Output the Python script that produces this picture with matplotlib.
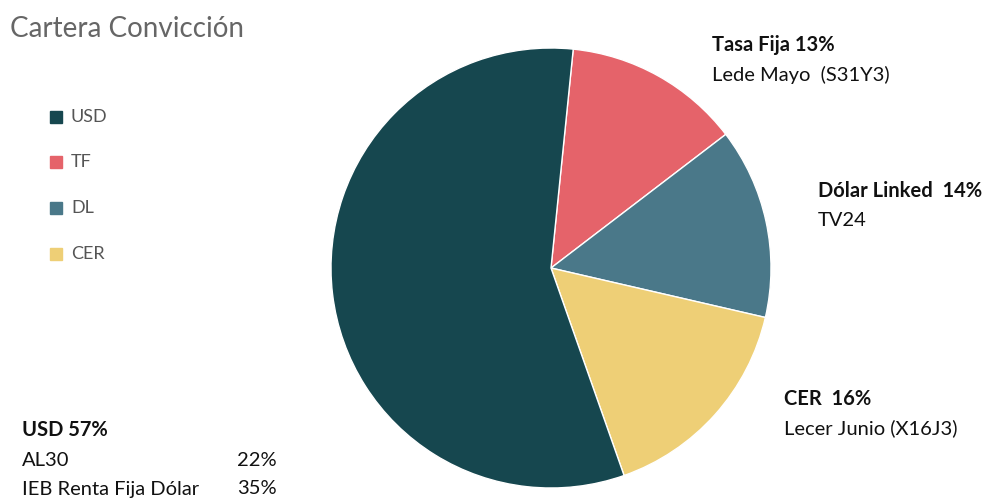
import matplotlib
matplotlib.use("Agg")
import matplotlib.pyplot as plt
from matplotlib.patches import Rectangle

# Data
slice_labels = ["TF", "DL", "CER", "USD"]
slice_values = [13, 14, 16, 57]
slice_colors = ["#e5636a", "#4a7889", "#eecf76", "#16474f"]

legend_labels = ["USD", "TF", "DL", "CER"]
legend_colors = ["#16474f", "#e5636a", "#4a7889", "#eecf76"]

annot_titles = ["Tasa Fija 13%", "Dólar Linked  14%", "CER  16%"]
annot_subs = ["Lede Mayo  (S31Y3)", "TV24", "Lecer Junio (X16J3)"]

usd_title = "USD 57%"
usd_items = ["AL30", "IEB Renta Fija Dólar"]
usd_values = ["22%", "35%"]

W, H = 1000, 499
fig = plt.figure(figsize=(W / 100, H / 100), dpi=100)
fig.patch.set_facecolor("white")

def fx(px):
    return px / W

def fy(py):
    return 1 - py / H

FONT = ["Lato", "DejaVu Sans"]
FS = 14.5

# Pie
ax = fig.add_axes([fx(331), fy(488), 440 / W, 440 / H])
ax.pie(slice_values, colors=slice_colors, startangle=84.2, counterclock=False,
       wedgeprops=dict(linewidth=1.0, edgecolor="white"), radius=1.0)
ax.set_xlim(-1.0, 1.0)
ax.set_ylim(-1.0, 1.0)
ax.set_aspect("equal")
ax.axis("off")

# Title
fig.text(fx(10), fy(29), "Cartera Convicción", fontsize=20, color="#666666",
         family=FONT, va="center", ha="left")

# Legend
leg_y = [117, 162, 208, 254]
for lab, col, y in zip(legend_labels, legend_colors, leg_y):
    fig.patches.append(Rectangle((fx(50), fy(y + 6)), 12 / W, 12 / H, color=col,
                                 transform=fig.transFigure, figure=fig))
    fig.text(fx(71), fy(y), lab, fontsize=13, color="#555555", family=FONT,
             va="center", ha="left")

# Annotations
annot_pos = [(712, 45, 75), (818, 191, 220), (784, 399, 428)]
for (x, y1, y2), t, s in zip(annot_pos, annot_titles, annot_subs):
    fig.text(fx(x), fy(y1), t, fontsize=FS, fontweight="bold", color="#111111",
             family=FONT, va="center", ha="left")
    fig.text(fx(x), fy(y2), s, fontsize=FS, color="#111111", family=FONT,
             va="center", ha="left")

# USD breakdown
fig.text(fx(22), fy(430), usd_title, fontsize=FS, fontweight="bold", color="#111111",
         family=FONT, va="center", ha="left")
for item, val, y in zip(usd_items, usd_values, [460, 489]):
    fig.text(fx(22), fy(y), item, fontsize=FS, color="#111111", family=FONT,
             va="center", ha="left")
    fig.text(fx(277), fy(y), val, fontsize=FS, color="#111111", family=FONT,
             va="center", ha="right")

fig.savefig("out.png", dpi=100)
